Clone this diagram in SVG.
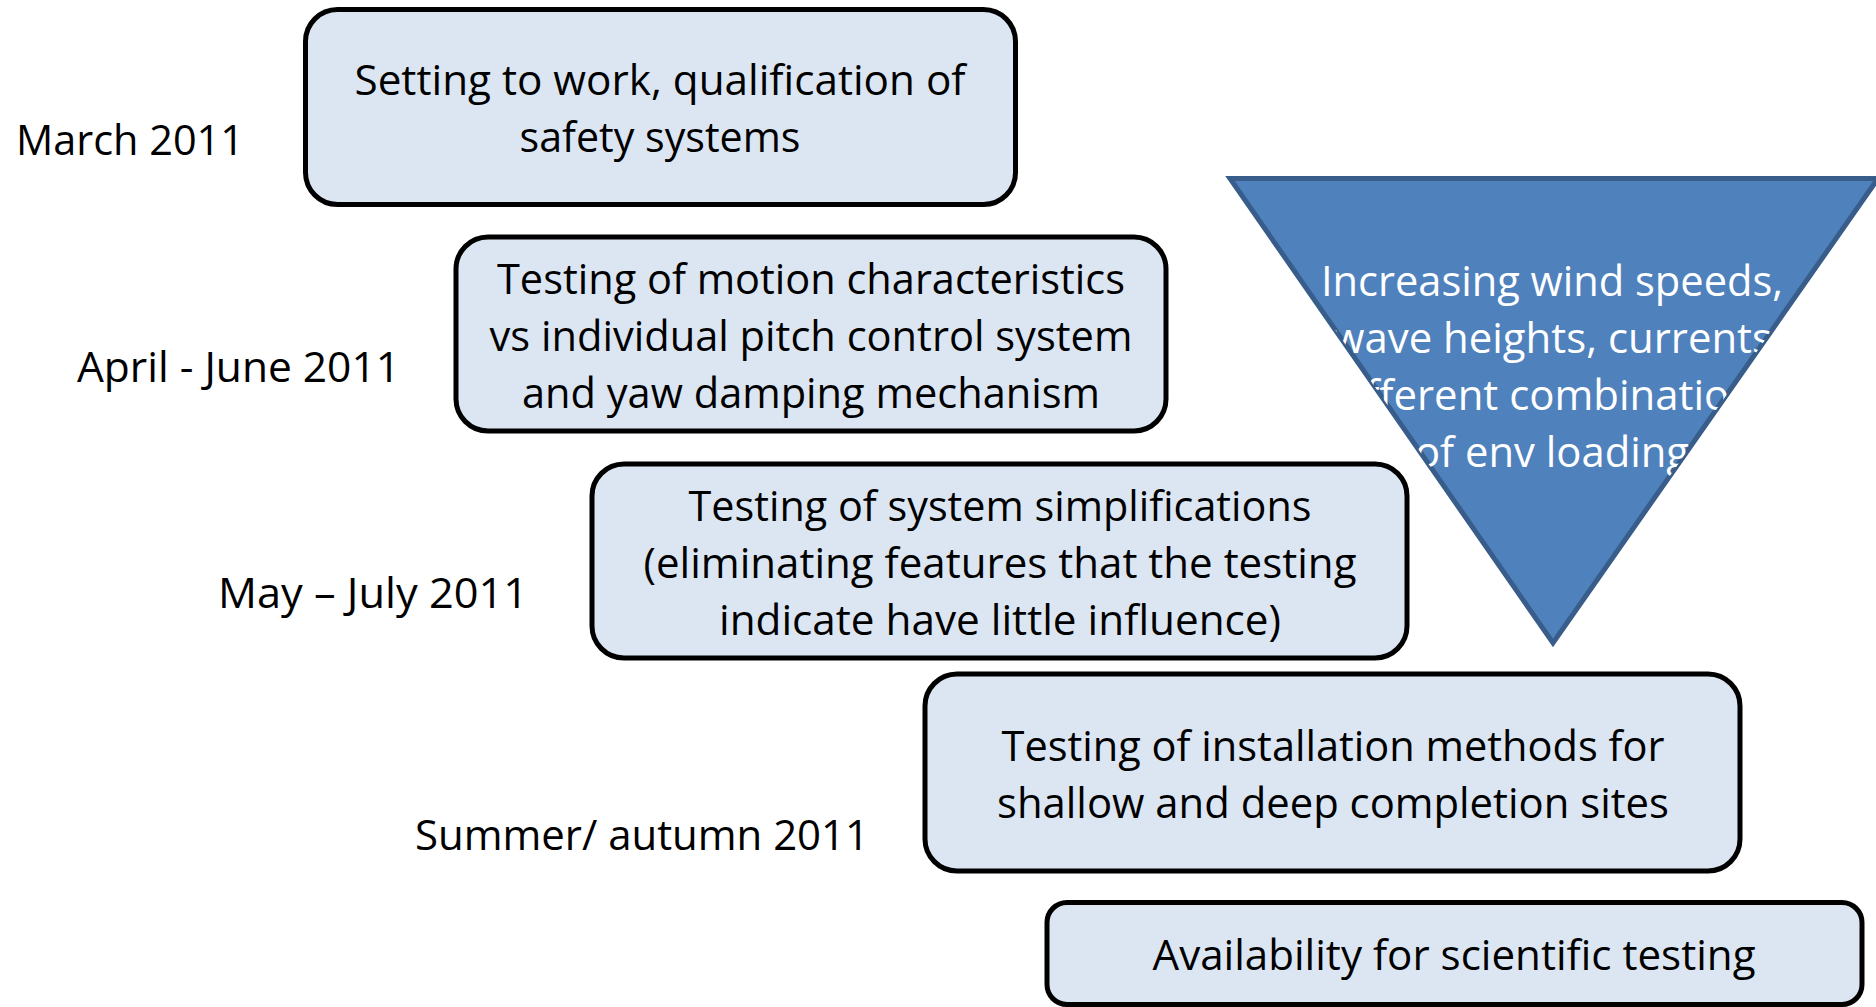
<svg xmlns="http://www.w3.org/2000/svg" width="1876" height="1007" viewBox="0 0 1876 1007">
  <style>
    .box { fill: #DCE6F2; stroke: #000000; stroke-width: 5; }
    .lbl { font-family: "Open Sans", "Noto Sans", "Liberation Sans", sans-serif; font-size: 42px; fill: #000000; }
    .mid { text-anchor: middle; }
    .tri { fill: #4F81BD; stroke: #385D8A; stroke-width: 5; }
    .wt { font-family: "Open Sans", "Noto Sans", "Liberation Sans", sans-serif; font-size: 42px; fill: #FFFFFF; text-anchor: middle; }
  </style>
  <defs>
    <clipPath id="triClip">
      <polygon points="1230,178.5 1878,178.5 1553,643"/>
    </clipPath>
  </defs>
  <rect width="1876" height="1007" fill="#FFFFFF"/>

  <!-- timeline labels -->
  <g id="dates">
    <text class="lbl" x="16" y="155" textLength="228" lengthAdjust="spacingAndGlyphs">March 2011</text>
    <text class="lbl" x="77" y="382" textLength="323" lengthAdjust="spacingAndGlyphs">April - June 2011</text>
    <text class="lbl" x="218" y="608" textLength="310" lengthAdjust="spacingAndGlyphs">May – July 2011</text>
    <text class="lbl" x="415" y="850" textLength="454" lengthAdjust="spacingAndGlyphs">Summer/ autumn 2011</text>
  </g>

  <!-- environmental loading wedge -->
  <g id="loading">
    <polygon class="tri" points="1230,178.5 1878,178.5 1553,643"/>
    <g clip-path="url(#triClip)">
      <text class="wt" x="1552" y="296" textLength="462" lengthAdjust="spacingAndGlyphs">Increasing wind speeds,</text>
      <text class="wt" x="1552" y="353" textLength="440" lengthAdjust="spacingAndGlyphs">wave heights, currents</text>
      <text class="wt" x="1552" y="410" textLength="446" lengthAdjust="spacingAndGlyphs">different combinations</text>
      <text class="wt" x="1552" y="467" textLength="274" lengthAdjust="spacingAndGlyphs">of env loading</text>
    </g>
  </g>

  <!-- test phases -->
  <g id="phase1">
    <rect class="box" x="305.5" y="9.5" width="710" height="195" rx="32"/>
    <text class="lbl mid" x="660" y="95" textLength="611" lengthAdjust="spacingAndGlyphs">Setting to work, qualification of</text>
    <text class="lbl mid" x="660" y="152" textLength="281" lengthAdjust="spacingAndGlyphs">safety systems</text>
  </g>
  <g id="phase2">
    <rect class="box" x="456" y="237" width="710" height="194" rx="32"/>
    <text class="lbl mid" x="811" y="294" textLength="628" lengthAdjust="spacingAndGlyphs">Testing of motion characteristics</text>
    <text class="lbl mid" x="811" y="351" textLength="643" lengthAdjust="spacingAndGlyphs">vs individual pitch control system</text>
    <text class="lbl mid" x="811" y="408" textLength="578" lengthAdjust="spacingAndGlyphs">and yaw damping mechanism</text>
  </g>
  <g id="phase3">
    <rect class="box" x="592" y="464" width="815" height="194" rx="32"/>
    <text class="lbl mid" x="1000" y="521" textLength="623" lengthAdjust="spacingAndGlyphs">Testing of system simplifications</text>
    <text class="lbl mid" x="1000" y="578" textLength="713" lengthAdjust="spacingAndGlyphs">(eliminating features that the testing</text>
    <text class="lbl mid" x="1000" y="635" textLength="562" lengthAdjust="spacingAndGlyphs">indicate have little influence)</text>
  </g>
  <g id="phase4">
    <rect class="box" x="925" y="674" width="815" height="197" rx="32"/>
    <text class="lbl mid" x="1333" y="761" textLength="663" lengthAdjust="spacingAndGlyphs">Testing of installation methods for</text>
    <text class="lbl mid" x="1333" y="818" textLength="672" lengthAdjust="spacingAndGlyphs">shallow and deep completion sites</text>
  </g>
  <g id="phase5">
    <rect class="box" x="1047" y="902.5" width="815" height="102" rx="20"/>
    <text class="lbl mid" x="1454" y="970" textLength="603" lengthAdjust="spacingAndGlyphs">Availability for scientific testing</text>
  </g>

  <g id="connectors"/>
</svg>
